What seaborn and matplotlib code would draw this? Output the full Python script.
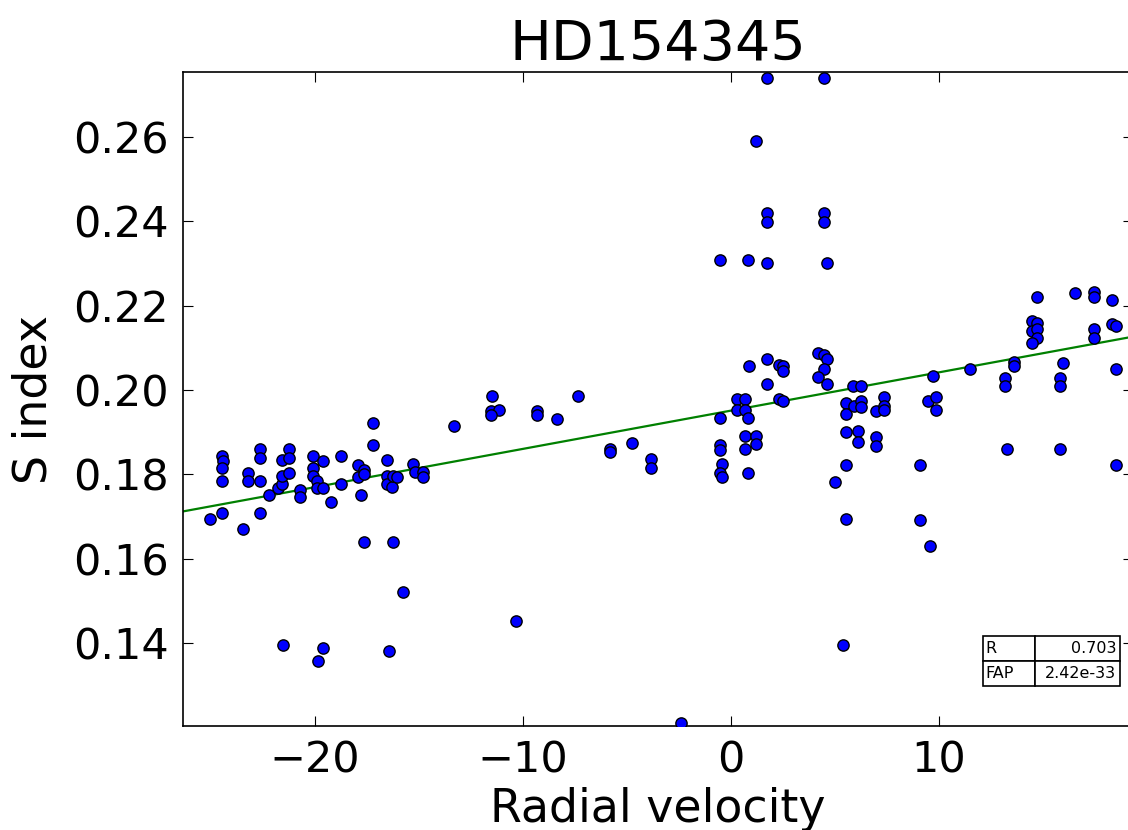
import numpy as np
import pandas as pd
import matplotlib
matplotlib.use("Agg")
import matplotlib.pyplot as plt
import seaborn as sns

# ---- data ----
rv = [
    -25.05, -24.49, -24.41, -24.49, -24.49, -24.49, -23.45, -23.23, -23.23,
    -22.66, -22.66, -22.66, -22.66, -22.20, -21.78, -21.60, -21.60, -21.60,
    -21.23, -21.23, -21.23, -20.72, -20.72, -20.08, -20.08, -20.08, -19.92,
    -19.92, -19.61, -19.61, -19.25, -18.75, -18.75, -17.93, -17.93, -17.66,
    -17.66, -17.79, -17.23, -17.23, -16.54, -16.54, -16.54, -16.31, -16.23,
    -16.07, -15.27, -15.19, -14.83, -14.83, -13.32,
    -21.52, -19.61, -19.84, -16.46, -17.66, -16.23, -15.78, -10.34, -2.40,
    -11.48, -11.55, -11.15, -11.55, -9.34, -9.34, -8.38, -7.37, -5.82, -5.82,
    -4.77, -3.85, -3.85,
    -0.51, -0.51, -0.51, -0.51, -0.43, -0.51, -0.43, 0.30, 0.30, 0.67, 0.67,
    0.88, 0.82, 0.82, 0.67, 0.67, 0.82, 1.20, 1.20, 1.20, 1.71, 1.71, 1.71,
    1.71, 1.71, 1.71, 2.33, 2.51, 2.51, 2.33, 2.51,
    4.48, 4.48, 4.48, 4.63, 4.18, 4.48, 4.63, 4.48, 4.18, 4.63, 5.00, 5.38,
    5.51, 5.51, 5.51, 5.51, 5.51, 5.86, 6.23, 5.91, 6.23, 6.23, 6.11, 6.11,
    6.99, 7.34, 7.34, 7.34, 6.99, 6.99,
    9.10, 9.10, 9.59, 9.70, 9.46, 9.86, 9.86,
    11.47, 13.17, 13.17, 13.25, 13.61, 13.61, 14.70, 14.46, 14.70, 14.46,
    14.70, 14.70, 14.46, 15.98, 15.80, 15.80, 15.80, 16.54, 17.47, 17.47,
    17.47, 17.47, 18.30, 18.30, 18.51, 18.51, 18.51,
]
s_index = [
    0.1694, 0.1843, 0.1832, 0.1814, 0.1785, 0.1709, 0.1670, 0.1804, 0.1785,
    0.1859, 0.1839, 0.1785, 0.1709, 0.1751, 0.1767, 0.1777, 0.1835, 0.1797,
    0.1859, 0.1839, 0.1804, 0.1763, 0.1745, 0.1843, 0.1814, 0.1797, 0.1785,
    0.1767, 0.1767, 0.1832, 0.1734, 0.1843, 0.1778, 0.1822, 0.1794, 0.1810,
    0.1800, 0.1751, 0.1922, 0.1869, 0.1835, 0.1797, 0.1778, 0.1769, 0.1797,
    0.1794, 0.1824, 0.1806, 0.1806, 0.1794, 0.1915,
    0.1395, 0.1389, 0.1357, 0.1382, 0.1639, 0.1639, 0.1521, 0.1452, 0.1210,
    0.1986, 0.1949, 0.1952, 0.1940, 0.1949, 0.1940, 0.1930, 0.1986, 0.1860,
    0.1853, 0.1873, 0.1836, 0.1814,
    0.2308, 0.1933, 0.1869, 0.1857, 0.1824, 0.1802, 0.1794, 0.1978, 0.1952,
    0.1978, 0.1952, 0.2057, 0.2308, 0.1933, 0.1890, 0.1860, 0.1802, 0.1890,
    0.1872, 0.2591, 0.2739, 0.2420, 0.2398, 0.2300, 0.2073, 0.2014, 0.2059,
    0.2057, 0.2046, 0.1978, 0.1974,
    0.2739, 0.2420, 0.2398, 0.2300, 0.2087, 0.2083, 0.2073, 0.2049, 0.2031,
    0.2014, 0.1781, 0.1395, 0.1968, 0.1944, 0.1901, 0.1822, 0.1694, 0.2009,
    0.2009, 0.1962, 0.1974, 0.1959, 0.1903, 0.1876, 0.1949, 0.1983, 0.1962,
    0.1952, 0.1888, 0.1867,
    0.1822, 0.1691, 0.1630, 0.2033, 0.1974, 0.1983, 0.1952,
    0.2050, 0.2029, 0.2009, 0.1860, 0.2067, 0.2057, 0.2221, 0.2164, 0.2158,
    0.2140, 0.2144, 0.2122, 0.2112, 0.2065, 0.2029, 0.2009, 0.1860, 0.2231,
    0.2233, 0.2220, 0.2144, 0.2122, 0.2213, 0.2156, 0.2152, 0.2050, 0.1823,
]
title = "HD154345"
stat_labels = ["R", "FAP"]
stat_values = ["0.703", "2.42e-33"]
x_ticks = [-20, -10, 0, 10]
y_ticks = [0.14, 0.16, 0.18, 0.20, 0.22, 0.24, 0.26]

df = pd.DataFrame({"rv": rv, "s": s_index})

sns.set_style("ticks")
plt.rcParams.update({
    "font.family": ["DejaVu Sans"],
    "text.color": "black",
    "axes.labelcolor": "black",
    "xtick.color": "black",
    "ytick.color": "black",
    "xtick.direction": "in",
    "ytick.direction": "in",
    "xtick.top": True,
    "ytick.right": True,
    "xtick.major.size": 7,
    "ytick.major.size": 7,
    "xtick.major.width": 0.8,
    "ytick.major.width": 0.8,
    "axes.edgecolor": "black",
    "axes.linewidth": 1.2,
})

fig = plt.figure(figsize=(11.28, 8.30), dpi=100)
ax = fig.add_axes([183 / 1128, 104 / 830, 950 / 1128, 654 / 830])

ax.set_xlim(-26.35, 19.33)
ax.set_ylim(0.1203, 0.2754)

sns.regplot(data=df, x="rv", y="s", scatter=False, ci=None, truncate=False,
            color=(0, 0.5, 0), line_kws={"linewidth": 1.6}, ax=ax)
sns.scatterplot(data=df, x="rv", y="s", color="blue", edgecolor="black",
                linewidth=1.0, s=66, ax=ax, zorder=3, legend=False)

ax.set_xlim(-26.35, 19.33)
ax.set_ylim(0.1203, 0.2754)
ax.set_xticks(x_ticks)
ax.set_xticklabels([f"{t:d}".replace("-", "\u2212") for t in x_ticks])
ax.set_yticks(y_ticks)
ax.set_yticklabels([f"{t:.2f}" for t in y_ticks])
ax.tick_params(axis="both", labelsize=31, pad=10, colors="black")

ax.set_xlabel("Radial velocity", fontsize=33, labelpad=4, color="black")
ax.set_ylabel("S index", fontsize=33, labelpad=12, color="black")
ax.set_title(title, fontsize=40, pad=8, color="black")

tab = ax.table(cellText=[[l, v] for l, v in zip(stat_labels, stat_values)],
               colWidths=[52, 85], bbox=[0.842, 0.0612, 0.1442, 0.0765])
tab.auto_set_font_size(False)
for (r, c), cell in tab.get_celld().items():
    cell.set_fontsize(11.5)
    cell.set_linewidth(1.2)
    cell.set_edgecolor("black")
    cell.get_text().set_ha("left" if c == 0 else "right")
    cell.get_text().set_color("black")
    cell.PAD = 0.04

fig.savefig("out.png", dpi=100)
